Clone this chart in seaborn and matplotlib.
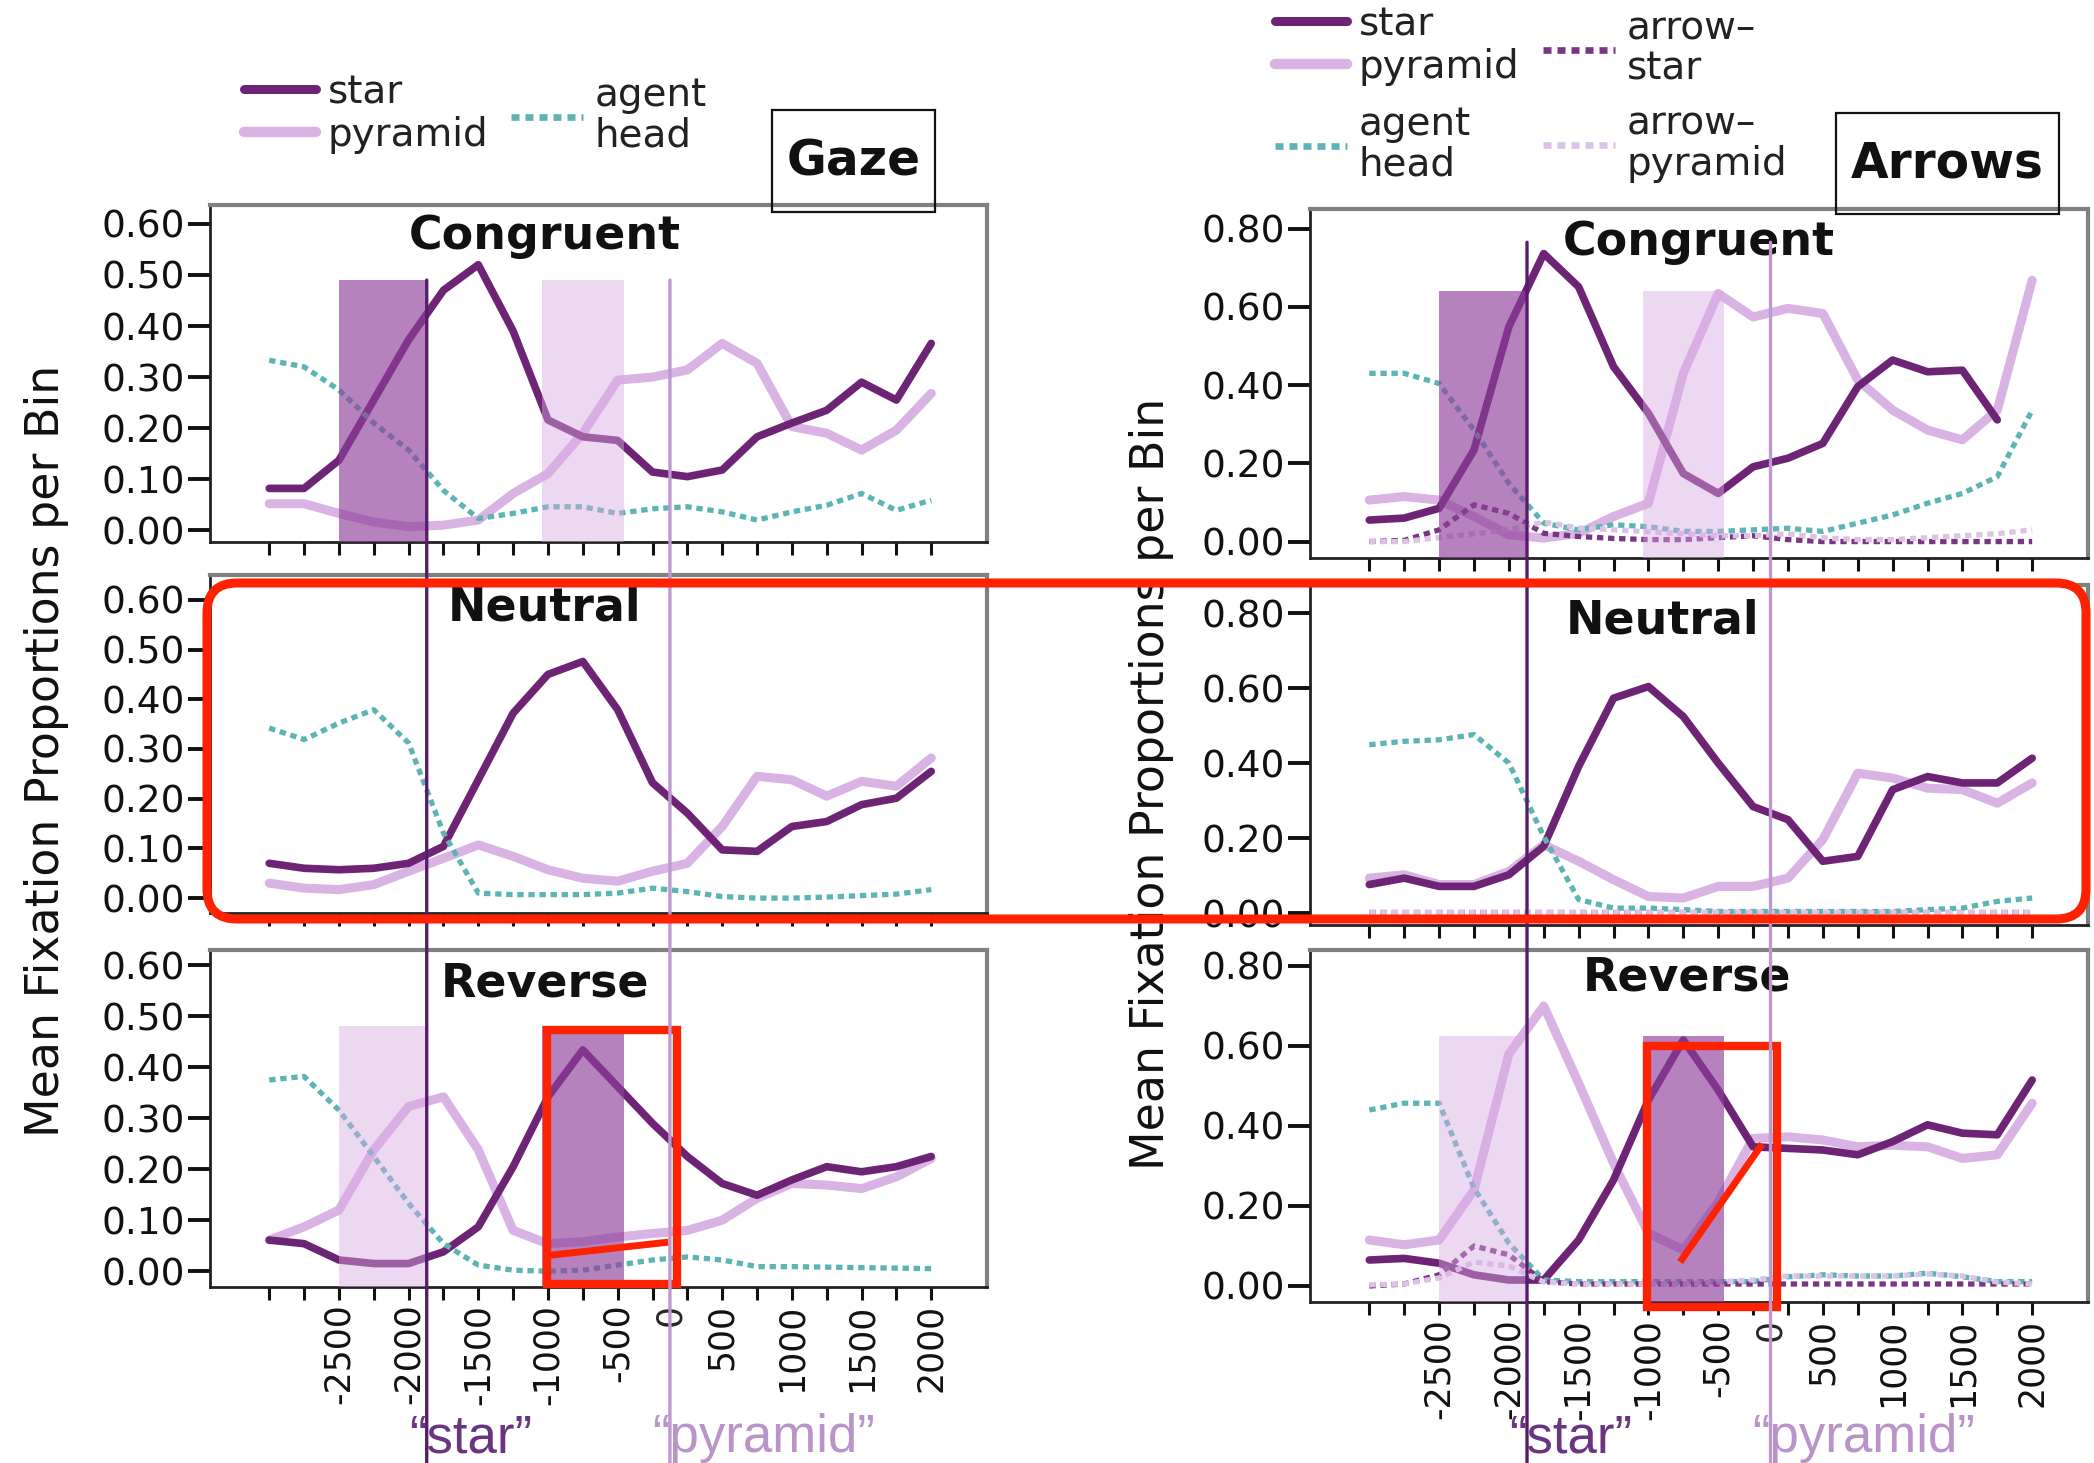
import numpy as np
import seaborn as sns
import matplotlib
matplotlib.use("Agg")
from matplotlib import pyplot as plt
from matplotlib import transforms as mtransforms
from matplotlib.lines import Line2D
from matplotlib.patches import Rectangle, FancyBboxPatch, ConnectionPatch

sns.set_style('white')
plt.rcParams['font.family'] = ['DejaVu Sans']

nan = float('nan')

# time bins in ms relative to "pyramid" onset (there is no 0 bin)
bin_ms = [-3000, -2750, -2500, -2250, -2000, -1750, -1500, -1250, -1000, -750,
          -500, -250, 250, 500, 750, 1000, 1250, 1500, 1750, 2000]
label_ms = [-2500, -2000, -1500, -1000, -500, 500, 1000, 1500, 2000]
star_onset_ms = -1870
pyramid_onset_ms = 0
star_window_ms = (-2500, -1880)
pyramid_window_ms = (-1040, -455)

gaze_yticks = [0.0, 0.1, 0.2, 0.3, 0.4, 0.5, 0.6]
arrows_yticks = [0.0, 0.2, 0.4, 0.6, 0.8]

# ---- Gaze ----
gaze_con_star = [0.082, 0.082, 0.137, 0.255, 0.373, 0.47, 0.52, 0.39, 0.216, 0.183,
                 0.176, 0.114, 0.105, 0.118, 0.183, 0.21, 0.235, 0.29, 0.255, 0.366]
gaze_con_pyramid = [0.052, 0.052, 0.033, 0.016, 0.007, 0.01, 0.02, 0.072, 0.111, 0.19,
                    0.294, 0.30, 0.314, 0.366, 0.327, 0.203, 0.19, 0.157, 0.196, 0.268]
gaze_con_agent = [0.333, 0.32, 0.275, 0.21, 0.157, 0.078, 0.023, 0.033, 0.046, 0.046,
                  0.033, 0.042, 0.046, 0.036, 0.02, 0.036, 0.049, 0.072, 0.039, 0.059]

gaze_neu_star = [0.07, 0.06, 0.057, 0.06, 0.07, 0.104, 0.238, 0.372, 0.45, 0.476,
                 0.379, 0.232, 0.171, 0.097, 0.094, 0.144, 0.154, 0.188, 0.201, 0.255]
gaze_neu_pyramid = [0.03, 0.02, 0.017, 0.027, 0.054, 0.08, 0.107, 0.084, 0.057, 0.04,
                    0.034, 0.054, 0.07, 0.144, 0.245, 0.238, 0.205, 0.235, 0.225, 0.282]
gaze_neu_agent = [0.342, 0.319, 0.352, 0.379, 0.312, 0.131, 0.01, 0.007, 0.007, 0.007,
                  0.01, 0.02, 0.013, 0.003, 0.0, 0.0, 0.002, 0.005, 0.008, 0.017]

gaze_rev_star = [0.061, 0.054, 0.022, 0.015, 0.015, 0.038, 0.087, 0.205, 0.342, 0.434,
                 0.362, 0.29, 0.225, 0.172, 0.149, 0.179, 0.205, 0.195, 0.205, 0.225]
gaze_rev_pyramid = [0.061, 0.087, 0.12, 0.238, 0.323, 0.342, 0.238, 0.08, 0.054, 0.058,
                    0.067, 0.074, 0.08, 0.1, 0.143, 0.172, 0.169, 0.162, 0.185, 0.221]
gaze_rev_agent = [0.375, 0.382, 0.316, 0.225, 0.133, 0.054, 0.012, 0.002, 0.0, 0.002,
                  0.012, 0.022, 0.028, 0.022, 0.009, 0.009, 0.008, 0.007, 0.006, 0.005]

# ---- Arrows ----
arr_con_star = [0.055, 0.06, 0.085, 0.234, 0.549, 0.736, 0.651, 0.447, 0.328, 0.174,
                0.123, 0.191, 0.213, 0.251, 0.396, 0.464, 0.434, 0.438, 0.311, nan]
arr_con_pyramid = [0.106, 0.115, 0.106, 0.064, 0.017, 0.009, 0.021, 0.064, 0.098, 0.43,
                   0.634, 0.574, 0.596, 0.583, 0.413, 0.336, 0.285, 0.26, 0.336, 0.668]
arr_con_agent = [0.43, 0.43, 0.404, 0.285, 0.149, 0.047, 0.03, 0.043, 0.038, 0.026,
                 0.026, 0.03, 0.034, 0.026, 0.047, 0.068, 0.098, 0.123, 0.166, 0.336]
arr_con_arrow_star = [0.0, 0.003, 0.03, 0.094, 0.072, 0.021, 0.013, 0.008, 0.005, 0.005,
                      0.01, 0.015, 0.005, 0.0, 0.0, 0.0, 0.0, 0.0, 0.0, 0.0]
arr_con_arrow_pyramid = [0.0, 0.0, 0.01, 0.02, 0.03, 0.05, 0.035, 0.03, 0.025, 0.02,
                         0.015, 0.015, 0.02, 0.01, 0.005, 0.005, 0.01, 0.015, 0.02, 0.03]

arr_neu_star = [0.076, 0.093, 0.071, 0.071, 0.102, 0.178, 0.391, 0.573, 0.604, 0.524,
                0.40, 0.284, 0.249, 0.138, 0.151, 0.329, 0.364, 0.347, 0.347, 0.413]
arr_neu_pyramid = [0.093, 0.102, 0.076, 0.076, 0.111, 0.182, 0.138, 0.089, 0.044, 0.04,
                   0.071, 0.071, 0.093, 0.196, 0.373, 0.36, 0.333, 0.329, 0.293, 0.347]
arr_neu_agent = [0.449, 0.458, 0.462, 0.476, 0.40, 0.204, 0.036, 0.013, 0.013, 0.009,
                 0.004, 0.004, 0.004, 0.004, 0.004, 0.004, 0.009, 0.013, 0.031, 0.04]
arr_neu_arrow_star = [0.002, 0.002, 0.002, 0.002, 0.002, 0.002, 0.002, 0.002, 0.002, 0.002,
                      0.002, 0.002, 0.002, 0.002, 0.002, 0.002, 0.002, 0.002, 0.002, 0.002]
arr_neu_arrow_pyramid = [0.004, 0.004, 0.004, 0.004, 0.004, 0.004, 0.004, 0.004, 0.004, 0.004,
                         0.004, 0.004, 0.004, 0.004, 0.004, 0.004, 0.004, 0.004, 0.004, 0.004]

arr_rev_star = [0.065, 0.069, 0.057, 0.028, 0.015, 0.015, 0.115, 0.265, 0.465, 0.615,
                0.49, 0.348, 0.344, 0.34, 0.328, 0.361, 0.403, 0.382, 0.378, 0.515]
arr_rev_pyramid = [0.115, 0.103, 0.115, 0.24, 0.58, 0.70, 0.507, 0.307, 0.132, 0.09,
                   0.21, 0.369, 0.373, 0.365, 0.348, 0.352, 0.348, 0.319, 0.328, 0.457]
arr_rev_agent = [0.44, 0.457, 0.457, 0.245, 0.107, 0.015, 0.011, 0.011, 0.011, 0.011,
                 0.011, 0.011, 0.023, 0.028, 0.025, 0.025, 0.032, 0.023, 0.011, 0.011]
arr_rev_arrow_star = [0.0, 0.005, 0.028, 0.1, 0.078, 0.011, 0.005, 0.005, 0.005, 0.005,
                      0.005, 0.005, 0.005, 0.005, 0.005, 0.005, 0.005, 0.005, 0.005, 0.005]
arr_rev_arrow_pyramid = [0.003, 0.005, 0.02, 0.06, 0.05, 0.01, 0.005, 0.005, 0.005, 0.005,
                         0.01, 0.015, 0.025, 0.025, 0.025, 0.025, 0.03, 0.025, 0.01, 0.005]

STAR = '#6e2474'
PYR = '#d9b3e3'
AGENT = '#5db4b4'
ARR_STAR = '#7b3585'
ARR_PYR = '#dcc3e6'
DARK_SHADE = '#8e3f9a'
LIGHT_SHADE = '#d9a9e3'
RED = '#ff2200'
DOTS = (0, (1.2, 0.9))

styles = {
    'pyramid': dict(color=PYR, lw=6.5, ls='-', z=3),
    'star': dict(color=STAR, lw=5.5, ls='-', z=4),
    'agent': dict(color=AGENT, lw=3.8, ls=DOTS, z=5),
    'arrow-star': dict(color=ARR_STAR, lw=3.8, ls=DOTS, z=5),
    'arrow-pyramid': dict(color=ARR_PYR, lw=3.8, ls=DOTS, z=5),
}

pos = np.arange(len(bin_ms))


def to_pos(ms):
    return float(np.interp(ms, bin_ms, pos))


W, H = 2094, 1463
fig = plt.figure(figsize=(W / 100, H / 100), dpi=100)
XLIM = (-1.7, 20.6)


def px_axes(x0, y0, x1, y1):
    return fig.add_axes([x0 / W, 1 - y1 / H, (x1 - x0) / W, (y1 - y0) / H])


def draw_panel(ax, series, ylim, yticks, title, txy, shades, bottom):
    for name in ['pyramid', 'star', 'agent', 'arrow-star', 'arrow-pyramid']:
        if name not in series:
            continue
        st = styles[name]
        sns.lineplot(x=pos, y=series[name], ax=ax, color=st['color'], lw=st['lw'],
                     linestyle=st['ls'], errorbar=None, zorder=st['z'])
    for (w0, w1), top, color, alpha in shades:
        x0, x1 = to_pos(w0), to_pos(w1)
        ax.add_patch(Rectangle((x0, ylim[0]), x1 - x0, top - ylim[0], color=color,
                               alpha=alpha, lw=0, zorder=6))
    ax.set_xlim(XLIM)
    ax.set_ylim(ylim)
    ax.set_xlabel('')
    ax.set_ylabel('')
    ax.set_yticks(yticks, labels=[f'{v:.2f}' for v in yticks])
    ax.set_xticks(pos, labels=[str(m) if m in label_ms else '' for m in bin_ms])
    ax.set_xticks([to_pos(pyramid_onset_ms)], labels=['0'], minor=True)
    ax.tick_params(axis='y', left=True, direction='out', length=16, width=2.8,
                   labelsize=27, pad=2, colors='#111111')
    ax.tick_params(axis='x', which='major', bottom=True, direction='out', length=9,
                   width=2.2, labelsize=25, pad=3, colors='#111111', labelrotation=90)
    ax.tick_params(axis='x', which='minor', bottom=True, length=0, labelsize=25, pad=12,
                   labelrotation=90)
    if not bottom:
        ax.tick_params(axis='x', which='both', labelbottom=False)
    for s in ['top', 'right']:
        ax.spines[s].set_color('#808080')
        ax.spines[s].set_linewidth(3)
    for s in ['left', 'bottom']:
        ax.spines[s].set_color('#222222')
        ax.spines[s].set_linewidth(2)
    ax.text(txy[0], txy[1], title, transform=ax.transAxes, ha='center', va='center',
            fontsize=33, fontweight='bold', color='#111111', zorder=10)


# ---------------- Gaze (left) ----------------
gL = [px_axes(210, 205, 987, 542), px_axes(210, 575, 987, 913), px_axes(210, 950, 987, 1287)]
draw_panel(gL[0], {'star': gaze_con_star, 'pyramid': gaze_con_pyramid, 'agent': gaze_con_agent},
           (-0.023, 0.637), gaze_yticks, 'Congruent', (0.431, 0.908),
           [(star_window_ms, 0.49, DARK_SHADE, 0.65), (pyramid_window_ms, 0.49, LIGHT_SHADE, 0.45)], False)
draw_panel(gL[1], {'star': gaze_neu_star, 'pyramid': gaze_neu_pyramid, 'agent': gaze_neu_agent},
           (-0.03, 0.65), gaze_yticks, 'Neutral', (0.431, 0.902), [], False)
draw_panel(gL[2], {'star': gaze_rev_star, 'pyramid': gaze_rev_pyramid, 'agent': gaze_rev_agent},
           (-0.031, 0.63), gaze_yticks, 'Reverse', (0.431, 0.90),
           [(star_window_ms, 0.48, LIGHT_SHADE, 0.45), (pyramid_window_ms, 0.48, DARK_SHADE, 0.65)], True)

# ---------------- Arrows (right) ----------------
aR = [px_axes(1310, 209, 2088, 558), px_axes(1310, 585, 2088, 925), px_axes(1310, 950, 2088, 1302)]
draw_panel(aR[0], {'star': arr_con_star, 'pyramid': arr_con_pyramid, 'agent': arr_con_agent,
                   'arrow-star': arr_con_arrow_star, 'arrow-pyramid': arr_con_arrow_pyramid},
           (-0.042, 0.85), arrows_yticks, 'Congruent', (0.50, 0.903),
           [(star_window_ms, 0.64, DARK_SHADE, 0.65), (pyramid_window_ms, 0.64, LIGHT_SHADE, 0.45)], False)
draw_panel(aR[1], {'star': arr_neu_star, 'pyramid': arr_neu_pyramid, 'agent': arr_neu_agent,
                   'arrow-star': arr_neu_arrow_star, 'arrow-pyramid': arr_neu_arrow_pyramid},
           (-0.032, 0.875), arrows_yticks, 'Neutral', (0.453, 0.894), [], False)
draw_panel(aR[2], {'star': arr_rev_star, 'pyramid': arr_rev_pyramid, 'agent': arr_rev_agent,
                   'arrow-star': arr_rev_arrow_star, 'arrow-pyramid': arr_rev_arrow_pyramid},
           (-0.04, 0.84), arrows_yticks, 'Reverse', (0.485, 0.92),
           [(star_window_ms, 0.625, LIGHT_SHADE, 0.45), (pyramid_window_ms, 0.625, DARK_SHADE, 0.65)], True)

# onset lines running through all three panels, and the word labels below
for axes, y_start in [(gL, 0.49), (aR, 0.765)]:
    trans_b = mtransforms.blended_transform_factory(axes[2].transData, fig.transFigure)
    for ms, color, word, wcolor in [(star_onset_ms, '#561c6a', '\u201cstar\u201d', '#6a3580'),
                                    (pyramid_onset_ms, '#bf98cf', '\u201cpyramid\u201d', '#b994c8')]:
        x = to_pos(ms)
        con = ConnectionPatch(xyA=(x, y_start), coordsA=axes[0].transData,
                              xyB=(x, 0.0), coordsB=trans_b, color=color, lw=2.4,
                              annotation_clip=False, zorder=8)
        fig.add_artist(con)
        axes[2].annotate(word, xy=(x, 0.0075), xycoords=trans_b, xytext=(-18, 0),
                         textcoords='offset pixels', ha='left', va='baseline',
                         fontsize=38, color=wcolor, family=['Liberation Sans', 'DejaVu Sans'],
                         annotation_clip=False)

# y labels
fig.text(47 / W, 1 - 751 / H, 'Mean Fixation Proportions per Bin', rotation=90,
         ha='center', va='center', fontsize=33, color='#111111')
fig.text(1151 / W, 1 - 784 / H, 'Mean Fixation Proportions per Bin', rotation=90,
         ha='center', va='center', fontsize=33, color='#111111')

# condition boxes
inch = fig.dpi_scale_trans
fig.add_artist(Rectangle((7.72, 12.51), 1.63, 1.02, transform=inch, fill=False,
                         ec='#111111', lw=1.6, zorder=3))
fig.text(8.535, 13.02, 'Gaze', transform=inch, ha='center', va='center', fontsize=35,
         fontweight='bold', color='#111111')
fig.add_artist(Rectangle((18.36, 12.49), 2.23, 1.01, transform=inch, fill=False,
                         ec='#111111', lw=1.6, zorder=3))
fig.text(19.475, 13.0, 'Arrows', transform=inch, ha='center', va='center', fontsize=35,
         fontweight='bold', color='#111111')


# legends: small separate legends so each block sits where the reference has it
def handle(name):
    st = styles[name]
    return Line2D([], [], color=st['color'], lw=st['lw'] + 1, linestyle=st['ls'])


def column_legend(names, labels, x_px, top_px, spacing):
    lg = fig.legend([handle(n) for n in names], labels, loc='upper left',
                    bbox_to_anchor=(x_px / W, 1 - top_px / H), frameon=False, fontsize=28,
                    handlelength=1.85, handletextpad=0.3, labelspacing=spacing,
                    borderpad=0, borderaxespad=0)
    for t in lg.get_texts():
        t.set_linespacing(1.08)
        t.set_color('#222222')
    return lg


column_legend(['star', 'pyramid'], ['star', 'pyramid'], 244, 73, 0.12)
column_legend(['agent'], ['agent\nhead'], 511, 76, 0.12)
column_legend(['star', 'pyramid'], ['star', 'pyramid'], 1275, 5, 0.12)
column_legend(['agent'], ['agent\nhead'], 1275, 105, 0.12)
column_legend(['arrow-star', 'arrow-pyramid'], ['arrow\u2013\nstar', 'arrow\u2013\npyramid'],
              1543, 9, 0.43)

# red annotations drawn over the figure
fig.add_artist(FancyBboxPatch((2.07, 5.44), 18.79, 3.36, boxstyle='round,pad=0,rounding_size=0.3',
                              transform=inch, fill=False, ec=RED, lw=6.5, zorder=20))
for ax, box_y, seg in [(gL[2], (-0.026, 0.473), ((-995, 0.031), (-20, 0.057))),
                       (aR[2], (-0.053, 0.60), ((-773, 0.06), (-120, 0.355)))]:
    x0, x1 = to_pos(-1010), to_pos(95)
    ax.add_patch(Rectangle((x0, box_y[0]), x1 - x0, box_y[1] - box_y[0], fill=False,
                           ec=RED, lw=6, clip_on=False, zorder=20))
    ax.plot([to_pos(seg[0][0]), to_pos(seg[1][0])], [seg[0][1], seg[1][1]], color=RED,
            lw=5, clip_on=False, zorder=20, solid_capstyle='butt')

fig.savefig('out.png', dpi=100)
